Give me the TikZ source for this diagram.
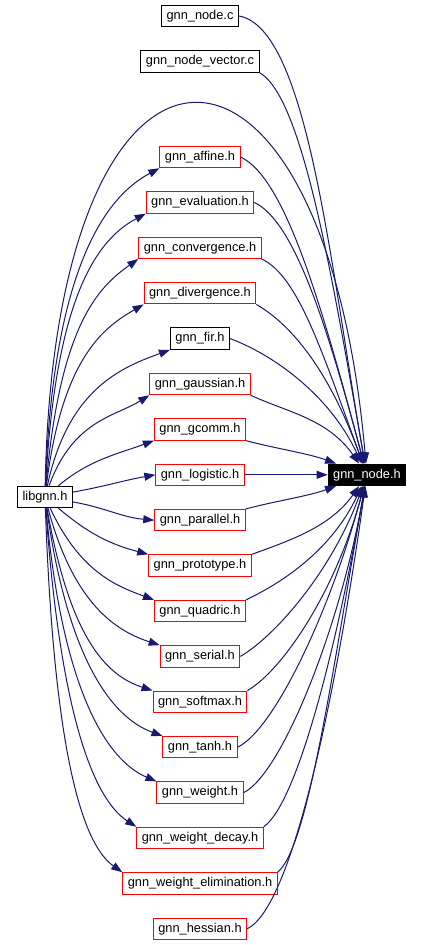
\documentclass[tikz,border=0pt]{standalone}
\usepackage{fontspec}
\setmainfont{Liberation Sans}
\usepackage{xcolor}
\usepackage{tikz}
\usetikzlibrary{arrows.meta, positioning}

\definecolor{edgeblue}{HTML}{191970}

\begin{document}
\begin{tikzpicture}[
    x=1pt, y=1pt,
    node distance=22.9pt,
    every node/.style={font=\fontsize{12.8}{14}\selectfont},
    file/.style={rectangle, draw=black, fill=white, line width=1pt,
        minimum height=21.5pt, inner xsep=5pt, inner ysep=0pt,
        text height=9.5pt, text depth=3pt},
    redfile/.style={file, draw=red},
    focus/.style={file, fill=black, text=white},
    dep/.style={-{Triangle[length=11pt, width=8pt]}, draw=edgeblue,
        fill=none, line width=1pt},
]
\useasboundingbox[fill=white] (0,0) rectangle (423,-945);

\node[file] (nodec) at (200,-16) {gnn\_node.c};
\node[file, below=of nodec] (nodevec) {gnn\_node\_vector.c};
\node[redfile] (affine) at (200,-157) {gnn\_affine.h};
\node[redfile, below=of affine] (evaluation) {gnn\_evaluation.h};
\node[redfile, below=of evaluation] (convergence) {gnn\_convergence.h};
\node[redfile, below=of convergence] (divergence) {gnn\_divergence.h};
\node[file, below=of divergence] (fir) {gnn\_fir.h};
\node[redfile, below=of fir] (gaussian) {gnn\_gaussian.h};
\node[redfile, below=of gaussian] (gcomm) {gnn\_gcomm.h};
\node[redfile, below=of gcomm] (logistic) {gnn\_logistic.h};
\node[redfile, below=of logistic] (parallel) {gnn\_parallel.h};
\node[redfile, below=of parallel] (prototype) {gnn\_prototype.h};
\node[redfile, below=of prototype] (quadric) {gnn\_quadric.h};
\node[redfile, below=of quadric] (serial) {gnn\_serial.h};
\node[redfile, below=of serial] (softmax) {gnn\_softmax.h};
\node[redfile, below=of softmax] (tanh) {gnn\_tanh.h};
\node[redfile, below=of tanh] (weight) {gnn\_weight.h};
\node[redfile, below=of weight] (wdecay) {gnn\_weight\_decay.h};
\node[redfile, below=of wdecay] (welim) {gnn\_weight\_elimination.h};
\node[redfile, below=of welim] (hessian) {gnn\_hessian.h};

\node[focus, right=83pt of logistic] (nodeh) {gnn\_node.h};
\node[file] (libgnn) at (45,-497) {libgnn.h};

% libgnn.h includes
\draw[dep] (libgnn) to[out=89, in=95, out distance=507pt, in distance=484pt] (nodeh);
\draw[dep] (libgnn) to[out=88, in=208, out distance=220pt, in distance=60pt] (affine.south west);
\draw[dep] (libgnn) to[out=87, in=208, out distance=190pt, in distance=55pt] (evaluation.south west);
\draw[dep] (libgnn) to[out=85, in=215, out distance=160pt, in distance=50pt] (convergence.south west);
\draw[dep] (libgnn) to[out=83, in=210, out distance=130pt, in distance=45pt] (divergence.south west);
\draw[dep] (libgnn) to[out=78, in=200, out distance=100pt, in distance=50pt] (fir.south west);
\draw[dep] (libgnn) to[out=70, in=212, out distance=70pt, in distance=40pt] (gaussian.south west);
\draw[dep] (libgnn) to[out=40, in=200, out distance=40pt, in distance=40pt] (gcomm.south west);
\draw[dep] (libgnn) to[out=10, in=190] (logistic.west);
\draw[dep] (libgnn) to[out=-10, in=175] (parallel.west);
\draw[dep] (libgnn) to[out=-40, in=165, out distance=40pt, in distance=40pt] (prototype.north west);
\draw[dep] (libgnn) to[out=-65, in=160, out distance=70pt, in distance=40pt] (quadric.north west);
\draw[dep] (libgnn) to[out=-75, in=162, out distance=100pt, in distance=45pt] (serial.north west);
\draw[dep] (libgnn) to[out=-80, in=162, out distance=130pt, in distance=50pt] (softmax.north west);
\draw[dep] (libgnn) to[out=-82, in=160, out distance=150pt, in distance=55pt] (tanh.north west);
\draw[dep] (libgnn) to[out=-85, in=157, out distance=180pt, in distance=55pt] (weight.north west);
\draw[dep] (libgnn) to[out=-86, in=147, out distance=210pt, in distance=50pt] (wdecay.north west);
\draw[dep] (libgnn) to[out=-88, in=145, out distance=240pt, in distance=50pt] (welim.north west);

% everything that includes gnn_node.h
\draw[dep] (nodec.east) to[out=-10, in=100, out distance=70pt, in distance=200pt] (nodeh);
\draw[dep] (nodevec.south east) to[out=-30, in=100, out distance=50pt, in distance=190pt] (nodeh);
\draw[dep] (affine.east) to[out=-25, in=105, out distance=50pt, in distance=160pt] (nodeh);
\draw[dep] (evaluation.east) to[out=-25, in=105, out distance=45pt, in distance=140pt] (nodeh);
\draw[dep] (convergence.south east) to[out=-25, in=110, out distance=40pt, in distance=120pt] (nodeh);
\draw[dep] (divergence.south east) to[out=-30, in=110, out distance=40pt, in distance=100pt] (nodeh);
\draw[dep] (fir.east) to[out=-20, in=115, out distance=40pt, in distance=80pt] (nodeh);
\draw[dep] (gaussian.south east) to[out=-25, in=125, out distance=40pt, in distance=55pt] (nodeh);
\draw[dep] (gcomm.south east) to[out=-15, in=160, out distance=30pt, in distance=30pt] (nodeh);
\draw[dep] (logistic) -- (nodeh);
\draw[dep] (parallel.north east) to[out=15, in=200, out distance=30pt, in distance=30pt] (nodeh);
\draw[dep] (prototype.north east) to[out=20, in=235, out distance=40pt, in distance=50pt] (nodeh);
\draw[dep] (quadric.north east) to[out=25, in=245, out distance=40pt, in distance=70pt] (nodeh);
\draw[dep] (serial.east) to[out=30, in=250, out distance=40pt, in distance=90pt] (nodeh);
\draw[dep] (softmax.north east) to[out=30, in=255, out distance=40pt, in distance=110pt] (nodeh);
\draw[dep] (tanh.east) to[out=25, in=255, out distance=40pt, in distance=130pt] (nodeh);
\draw[dep] (weight.east) to[out=25, in=260, out distance=40pt, in distance=150pt] (nodeh);
\draw[dep] (wdecay.north east) to[out=35, in=260, out distance=40pt, in distance=170pt] (nodeh);
\draw[dep] (welim.north east) to[out=40, in=260, out distance=40pt, in distance=190pt] (nodeh);
\draw[dep] (hessian.east) to[out=25, in=262, out distance=50pt, in distance=210pt] (nodeh);

\end{tikzpicture}
\end{document}
